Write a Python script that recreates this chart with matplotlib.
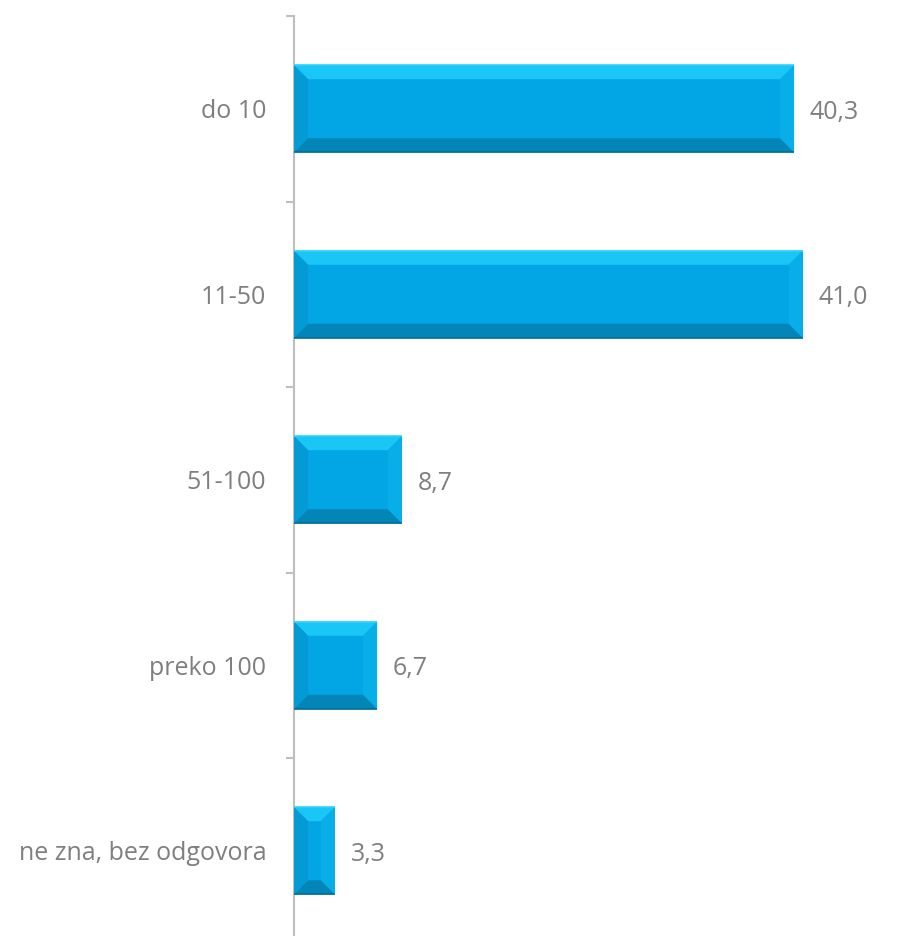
import matplotlib.pyplot as plt
from matplotlib.patches import Polygon

# data
categories = ['do 10', '11-50', '51-100', 'preko 100', 'ne zna, bez odgovora']
values = [40.3, 41.0, 8.7, 6.7, 3.3]

plt.rcParams['font.family'] = ['Open Sans', 'DejaVu Sans']

fig = plt.figure(figsize=(8.97, 9.36), dpi=100)
ax = fig.add_axes([294 / 897, -7.5 / 936, 1 - 294 / 897, 927.5 / 936])

n = len(categories)
ypos = [n - 1 - i for i in range(n)]
bar_h = 0.47

main = '#02A6E4'
ax.barh(ypos, values, height=bar_h, color=main, edgecolor='none', zorder=2)

# bevel sizes in data units (~14 px)
bx = 1.13
by = 0.076
for y, v in zip(ypos, values):
    t, b = y + bar_h / 2, y - bar_h / 2
    sx = min(bx, v / 2)
    faces = [
        ([(0, t), (v, t), (v - sx, t - by), (sx, t - by)], '#1AC6F6'),
        ([(0, b), (v, b), (v - sx, b + by), (sx, b + by)], '#0385B8'),
        ([(0, t), (sx, t - by), (sx, b + by), (0, b)], '#039AD5'),
        ([(v, t), (v - sx, t - by), (v - sx, b + by), (v, b)], '#08AEE8'),
    ]
    for pts, col in faces:
        ax.add_patch(Polygon(pts, closed=True, facecolor=col, edgecolor='none', zorder=3))
    # thin highlight at top edge, darker line at the bottom edge
    ax.plot([0, v], [t, t], color='#2ED3FF', lw=1.2, zorder=4, solid_capstyle='butt')
    ax.plot([0, v], [b, b], color='#006E9A', lw=1.2, zorder=4, solid_capstyle='butt')
    ax.text(v + 1.25, y - 0.02, f'{v:.1f}'.replace('.', ','), va='center', ha='left',
            fontsize=18, color='#7F7F7F')

ax.set_xlim(0, 603 / 12.41)
ax.set_ylim(-0.5, n - 0.5)

ax.set_yticks(ypos)
ax.set_yticklabels(categories, fontsize=18, color='#7F7F7F')
ax.set_yticks([i - 0.5 for i in range(n + 1)], minor=True)
ax.tick_params(axis='y', which='major', length=0, pad=20)
ax.tick_params(axis='y', which='minor', length=6, width=1.5, color='#BFBFBF', direction='out')
ax.set_xticks([])

for s in ['top', 'right', 'bottom']:
    ax.spines[s].set_visible(False)
ax.spines['left'].set_color('#BFBFBF')
ax.spines['left'].set_linewidth(1.5)

fig.savefig('out.png', dpi=100)
